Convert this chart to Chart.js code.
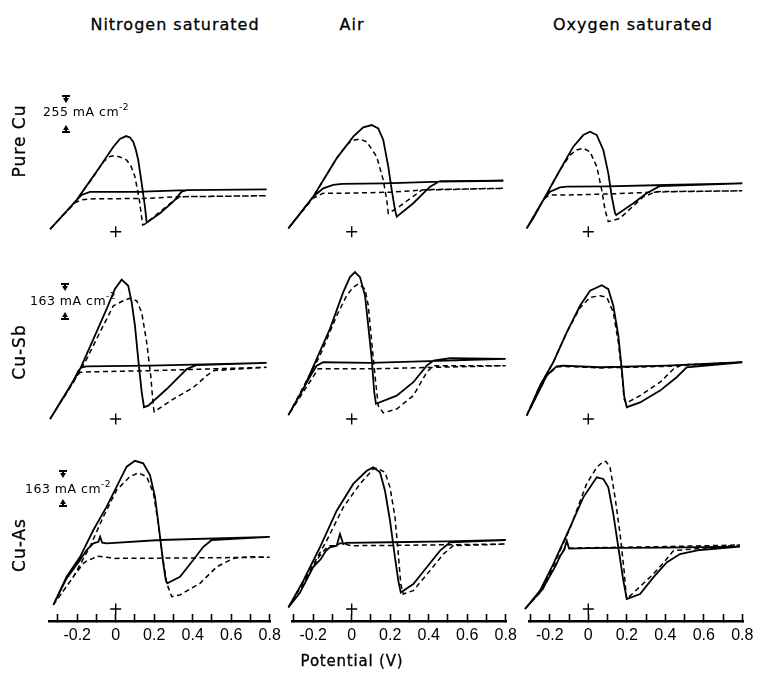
<!DOCTYPE html>
<html>
<head>
<meta charset="utf-8">
<script src="https://cdn.jsdelivr.net/npm/chart.js@4.4.0/dist/chart.umd.min.js"></script>
<style>
  html,body{margin:0;padding:0;background:#fff;}
  body{width:762px;height:673px;position:relative;overflow:hidden;font-family:"DejaVu Sans",sans-serif;color:#000;}
  .title{position:absolute;top:15px;font-size:16px;line-height:20px;letter-spacing:1px;white-space:nowrap;transform:translateX(-50%);-webkit-text-stroke:0.3px #000;}
  .rowlab{position:absolute;font-size:17px;line-height:20px;letter-spacing:1px;white-space:nowrap;transform:translate(-50%,-50%) rotate(-90deg);-webkit-text-stroke:0.3px #000;}
  .sbtext{position:absolute;font-size:12.5px;line-height:14px;letter-spacing:0.5px;white-space:nowrap;transform:translateY(-50%);}
  .sbtext sup{font-size:9px;vertical-align:6px;line-height:0;}
  .bar{position:absolute;background:#000;}
  .tri{position:absolute;width:0;height:0;}
  .xtitle{position:absolute;font-size:15px;line-height:18px;letter-spacing:0.8px;white-space:nowrap;transform:translate(-50%,-50%);-webkit-text-stroke:0.3px #000;}
</style>
</head>
<body>
<script>
// ---------------- data ----------------
const conditions = ['Nitrogen saturated', 'Air', 'Oxygen saturated'];
const electrodes = ['Pure Cu', 'Cu-Sb', 'Cu-As'];
const scaleBarValues = [255, 163, 163];          // mA cm^-2 represented by each scale bar
const tickLabels = ['-0.2', '0', '0.2', '0.4', '0.6', '0.8'];
const axisTitle = 'Potential (V)';

// [potential V, current mA cm^-2], forward scan then reverse scan
const pureCuN2Solid = [[-0.341,17],[-0.203,218],[-0.082,448],[-0.012,586],[0.022,639],[0.054,659],[0.074,649],[0.091,620],[0.105,563],[0.117,494],[0.135,333],[0.152,172],[0.161,62],[0.23,127],[0.299,207],[0.343,276],[0.369,287],[0.784,292],
  [0.369,287],[0.143,276],[-0.134,274],[-0.177,253],[-0.203,218],[-0.341,17]];
const pureCuN2Dashed = [[-0.341,17],[-0.203,218],[-0.116,379],[-0.064,482],[-0.03,518],[-0.009,524],[0.022,515],[0.057,494],[0.079,453],[0.1,379],[0.123,218],[0.14,46],[0.152,53],[0.299,212],[0.334,241],[0.784,248],
  [0.334,241],[0.143,229],[-0.134,226],[-0.177,220],[-0.211,200],[-0.341,17]];
const pureCuAirSolid = [[-0.329,23],[-0.2,241],[-0.078,506],[0.008,655],[0.06,719],[0.104,735],[0.138,712],[0.164,632],[0.19,448],[0.208,287],[0.225,150],[0.234,103],[0.32,196],[0.407,310],[0.459,349],[0.788,351],
  [0.46,345],[0.17,333],[-0.05,329],[-0.096,322],[-0.148,299],[-0.2,241],[-0.329,23]];
const pureCuAirDashed = [[-0.329,23],[-0.2,241],[-0.078,506],[-0.026,597],[0,627],[0.04,639],[0.078,620],[0.13,517],[0.164,356],[0.182,218],[0.19,127],[0.234,161],[0.364,287],[0.788,299],
  [0.4,290],[0.2,272],[0,266],[-0.148,265],[-0.17,250],[-0.2,232],[-0.329,23]];
const pureCuO2Solid = [[-0.32,23],[-0.286,92],[-0.234,218],[-0.147,425],[-0.078,586],[-0.026,666],[0.009,689],[0.044,666],[0.078,563],[0.104,402],[0.122,241],[0.139,127],[0.145,115],[0.234,196],[0.303,265],[0.373,315],[0.8,333],
  [0.4,322],[0.1,313],[-0.112,310],[-0.147,306],[-0.199,276],[-0.234,218],[-0.32,23]];
const pureCuO2Dashed = [[-0.32,23],[-0.234,218],[-0.147,425],[-0.095,528],[-0.06,563],[-0.026,575],[0.009,551],[0.044,448],[0.07,287],[0.087,150],[0.104,69],[0.164,92],[0.286,241],[0.355,276],[0.8,282],
  [0.4,275],[0.1,260],[-0.1,253],[-0.199,253],[-0.216,241],[-0.234,218],[-0.32,23]];

const cuSbN2Solid = [[-0.341,0],[-0.255,118],[-0.185,220],[-0.116,352],[-0.047,485],[-0.004,573],[0.031,614],[0.065,587],[0.083,514],[0.1,411],[0.117,264],[0.135,118],[0.147,52],[0.169,59],[0.265,132],[0.369,220],[0.421,238],[0.784,247],
  [0.178,235],[-0.151,232],[-0.177,228],[-0.194,213],[-0.22,168],[-0.341,0]];
const cuSbN2Dashed = [[-0.341,0],[-0.22,161],[-0.151,264],[-0.082,382],[-0.012,499],[0.04,521],[0.074,532],[0.109,521],[0.135,470],[0.161,338],[0.182,191],[0.195,59],[0.2,32],[0.299,88],[0.403,139],[0.473,191],[0.507,213],[0.784,228],
  [0.178,213],[-0.116,208],[-0.185,206],[-0.205,185],[-0.341,0]];
const cuSbAirSolid = [[-0.329,17],[-0.251,133],[-0.182,265],[-0.113,397],[-0.044,559],[-0.009,625],[0.017,647],[0.043,625],[0.069,544],[0.086,411],[0.104,265],[0.117,118],[0.126,67],[0.234,103],[0.32,162],[0.39,235],[0.424,257],[0.511,268],[0.8,265],
  [0.095,247],[-0.148,250],[-0.182,235],[-0.208,199],[-0.329,17]];
const cuSbAirDashed = [[-0.329,17],[-0.165,279],[-0.078,455],[-0.026,544],[0.008,581],[0.034,595],[0.069,573],[0.086,500],[0.104,338],[0.121,191],[0.138,59],[0.164,27],[0.234,44],[0.32,103],[0.39,206],[0.424,235],[0.8,235],
  [0.4,227],[0.1,221],[-0.15,221],[-0.174,221],[-0.19,200],[-0.329,17]];
const cuSbO2Solid = [[-0.32,15],[-0.251,147],[-0.182,250],[-0.112,382],[-0.043,499],[0.009,565],[0.07,589],[0.104,572],[0.13,499],[0.156,367],[0.174,220],[0.186,103],[0.2,52],[0.269,73],[0.373,125],[0.459,184],[0.511,228],[0.8,250],
  [0.407,235],[0.061,228],[-0.13,235],[-0.164,232],[-0.19,213],[-0.216,191],[-0.32,15]];
const cuSbO2Dashed = [[-0.32,15],[-0.251,147],[-0.182,250],[-0.112,382],[-0.043,490],[0.009,536],[0.061,543],[0.096,536],[0.13,470],[0.156,338],[0.174,206],[0.186,88],[0.196,70],[0.269,103],[0.373,162],[0.442,220],[0.485,238],[0.8,250],
  [0.407,232],[0.061,225],[-0.13,232],[-0.164,229],[-0.19,210],[-0.216,191],[-0.32,15]];

const cuAsN2Solid = [[-0.324,18],[-0.255,142],[-0.185,230],[-0.116,348],[-0.047,451],[0.005,539],[0.057,627],[0.1,653],[0.143,642],[0.178,590],[0.204,495],[0.226,348],[0.247,201],[0.26,128],[0.268,113],[0.334,142],[0.403,216],[0.455,274],[0.499,304],[0.8,318],
  [0.23,304],[-0.047,289],[-0.07,292],[-0.081,318],[-0.09,296],[-0.116,289],[-0.151,260],[-0.185,216],[-0.255,135],[-0.324,18]];
const cuAsN2Dashed = [[-0.324,18],[-0.22,142],[-0.134,274],[-0.064,407],[0.005,524],[0.074,583],[0.117,600],[0.161,583],[0.196,510],[0.221,378],[0.244,230],[0.265,113],[0.291,54],[0.334,62],[0.438,113],[0.525,186],[0.611,223],[0.68,230],[0.8,228],
  [0.4,225],[0,223],[-0.099,233],[-0.12,222],[-0.142,216],[-0.168,201],[-0.22,142],[-0.324,18]];
const cuAsAirSolid = [[-0.329,7],[-0.251,125],[-0.165,272],[-0.078,433],[0.008,551],[0.078,609],[0.112,624],[0.147,602],[0.173,521],[0.199,389],[0.225,226],[0.242,125],[0.255,73],[0.32,110],[0.39,184],[0.459,257],[0.511,294],[0.8,304],
  [0.5,298],[0.2,294],[-0.03,291],[-0.044,286],[-0.061,330],[-0.078,279],[-0.113,272],[-0.135,255],[-0.16,220],[-0.2,185],[-0.27,70],[-0.329,7]];
const cuAsAirDashed = [[-0.329,7],[-0.217,169],[-0.13,301],[-0.044,448],[0.043,551],[0.112,617],[0.13,621],[0.173,602],[0.199,536],[0.225,404],[0.242,242],[0.255,110],[0.268,66],[0.32,81],[0.407,169],[0.476,242],[0.528,279],[0.8,286],
  [0.2,280],[0,279],[-0.06,290],[-0.078,279],[-0.113,279],[-0.14,262],[-0.17,230],[-0.217,160],[-0.329,7]];
const cuAsO2Solid = [[-0.329,0],[-0.251,81],[-0.182,198],[-0.095,360],[-0.026,492],[0.044,580],[0.078,573],[0.104,536],[0.13,418],[0.156,272],[0.182,125],[0.2,44],[0.269,66],[0.338,139],[0.407,205],[0.476,242],[0.58,260],[0.788,275],
  [0.4,270],[0,268],[-0.1,266],[-0.112,301],[-0.125,262],[-0.145,235],[-0.17,190],[-0.24,85],[-0.329,0]];
const cuAsO2Dashed = [[-0.329,0],[-0.251,75],[-0.182,190],[-0.095,355],[-0.009,551],[0.044,624],[0.078,650],[0.092,650],[0.113,624],[0.139,492],[0.165,330],[0.186,169],[0.196,66],[0.2,44],[0.338,154],[0.407,220],[0.442,257],[0.788,282],
  [0.4,275],[0,270],[-0.1,268],[-0.112,295],[-0.125,262],[-0.145,238],[-0.17,195],[-0.24,82],[-0.329,0]];

const panels = [
  [pureCuN2Solid, pureCuN2Dashed, pureCuAirSolid, pureCuAirDashed, pureCuO2Solid, pureCuO2Dashed],
  [cuSbN2Solid, cuSbN2Dashed, cuSbAirSolid, cuSbAirDashed, cuSbO2Solid, cuSbO2Dashed],
  [cuAsN2Solid, cuAsN2Dashed, cuAsAirSolid, cuAsAirDashed, cuAsO2Solid, cuAsO2Dashed]
];

// ---------------- layout (page pixels) ----------------
const ppv = 192.5;                       // pixels per volt
const colZero = [115.7, 351.7, 588.3];   // x pixel of 0 V in each column
const colMin = [-0.345, -0.305, -0.305];
const colMax = 0.8;
const rowTop = [100, 268, 440];
const rowBottom = [248, 432, 621];
const rowZero = [231.7, 419, 609];       // y pixel of zero current in each row
const barPx = 37;                        // scale bar length in pixels

Chart.defaults.font.family = '"Liberation Sans", Arial, sans-serif';
Chart.defaults.color = '#000';

function toXY(arr){ return arr.map(p => ({x: p[0], y: p[1]})); }

function makePanel(r, c, solid, dashed){
  const last = (r === 2);
  const pad = 25, padV = 20, axisH = 32;
  const aL = Math.floor(colZero[c] + colMin[c]*ppv);
  const aR = Math.ceil(colZero[c] + colMax*ppv);
  const aT = rowTop[r], aB = rowBottom[r];
  const W = aR - aL + 2*pad;
  const H = aB - aT + padV + (last ? axisH : padV);
  const cv = document.createElement('canvas');
  cv.width = W; cv.height = H;
  cv.style.cssText = 'position:absolute;left:' + (aL-pad) + 'px;top:' + (aT-padV) + 'px;width:' + W + 'px;height:' + H + 'px;';
  document.body.appendChild(cv);
  const mpp = scaleBarValues[r] / barPx;
  const yMaxV = (rowZero[r] - aT) * mpp;
  const yMinV = (rowZero[r] - aB) * mpp;
  const xMinV = (aL - colZero[c]) / ppv;
  const xMaxV = (aR - colZero[c]) / ppv;

  const xScale = {
    type: 'linear', min: xMinV, max: xMaxV, display: last,
    border: {display: true, color: '#000', width: 2.4},
    grid: {display: true, drawOnChartArea: false, drawTicks: true, tickLength: -7, tickWidth: 1.6, tickColor: '#000'},
    ticks: {
      stepSize: 0.1, includeBounds: false, autoSkip: false, maxRotation: 0, minRotation: 0, padding: 12,
      color: '#000', font: {size: 16},
      callback: (v) => { const t = tickLabels.find(l => Math.abs(parseFloat(l) - v) < 1e-6); return t === undefined ? '' : t; }
    }
  };
  if (last) {
    xScale.afterFit = (s) => { s.height = axisH; s.paddingLeft = 0; s.paddingRight = 0; };
  }

  new Chart(cv, {
    type: 'scatter',
    data: {
      datasets: [
        {data: toXY(solid), showLine: true, borderColor: '#000', borderWidth: 1.8, pointRadius: 0, tension: 0, fill: false, clip: false},
        {data: toXY(dashed), showLine: true, borderColor: '#000', borderWidth: 1.5, borderDash: [5, 3.5], pointRadius: 0, tension: 0, fill: false, clip: false},
        {data: [{x: 0, y: 0}], showLine: false, pointStyle: 'cross', pointRadius: 5.5, borderColor: '#000', borderWidth: 1.4, clip: false}
      ]
    },
    options: {
      responsive: false, maintainAspectRatio: false, animation: false, events: [],
      layout: {padding: {left: pad, right: pad, top: padV, bottom: last ? 0 : padV}},
      plugins: {legend: {display: false}, tooltip: {enabled: false}},
      scales: {
        x: xScale,
        y: {type: 'linear', min: yMinV, max: yMaxV, display: false}
      }
    }
  });
}

for (let r = 0; r < 3; r++) {
  for (let c = 0; c < 3; c++) {
    makePanel(r, c, panels[r][2*c], panels[r][2*c+1]);
  }
}

// ---------------- text ----------------
function addDiv(cls, html, left, top){
  const d = document.createElement('div');
  d.className = cls; d.innerHTML = html;
  d.style.left = left + 'px'; d.style.top = top + 'px';
  document.body.appendChild(d);
  return d;
}
const titleX = [175, 352, 633];
conditions.forEach((t, i) => addDiv('title', t, titleX[i], 15));
const rowLabelY = [141, 352, 545];
electrodes.forEach((t, i) => addDiv('rowlab', t, 19, rowLabelY[i]));
addDiv('xtitle', axisTitle, 352, 661);

// scale bars
const sbX = [66, 65, 63];
const sbTop = [95, 283, 470];
const sbBot = [133, 320, 507];
const sbTextX = [43, 30, 25];
const sbTextY = [112, 301, 489];
function rect(x, y, w, h){ const d = document.createElement('div'); d.className = 'bar'; d.style.cssText += 'left:'+x+'px;top:'+y+'px;width:'+w+'px;height:'+h+'px;'; document.body.appendChild(d); }
function tri(x, y, down){
  const d = document.createElement('div'); d.className = 'tri';
  d.style.cssText += 'left:'+(x-3)+'px;top:'+y+'px;border-left:3px solid transparent;border-right:3px solid transparent;' + (down ? 'border-top:5px solid #000;' : 'border-bottom:5px solid #000;');
  document.body.appendChild(d);
}
for (let r = 0; r < 3; r++) {
  const x = sbX[r];
  rect(x-4, sbTop[r], 8, 1.6);
  rect(x-0.6, sbTop[r], 1.3, 5);
  tri(x, sbTop[r]+3, true);
  rect(x-4, sbBot[r]-1.6, 8, 1.6);
  rect(x-0.6, sbBot[r]-5, 1.3, 5);
  tri(x, sbBot[r]-8, false);
  addDiv('sbtext', scaleBarValues[r] + ' mA cm<sup>-2</sup>', sbTextX[r], sbTextY[r]);
}
</script>
</body>
</html>
